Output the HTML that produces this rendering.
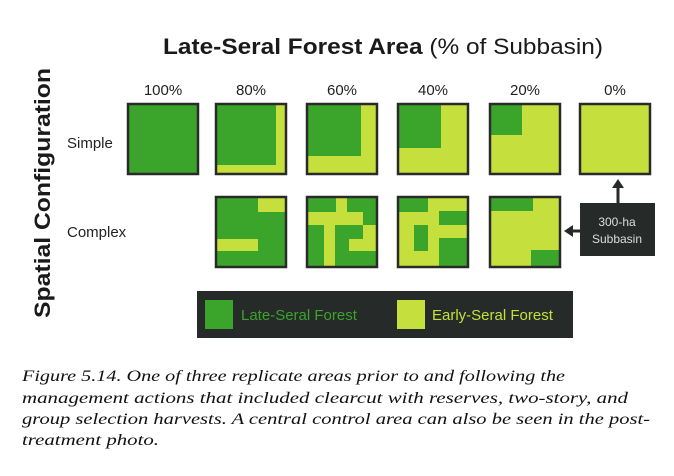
<!DOCTYPE html>
<html><head><meta charset="utf-8"><style>
html,body{margin:0;padding:0;background:#fff;}
svg{display:block;}
</style></head><body>
<svg width="674" height="476" viewBox="0 0 674 476" xmlns="http://www.w3.org/2000/svg">
<text x="383" y="54" text-anchor="middle" font-family="Liberation Sans, sans-serif" font-size="22" fill="#1a1a1a" textLength="440" lengthAdjust="spacingAndGlyphs"><tspan font-weight="bold">Late-Seral Forest Area</tspan> (% of Subbasin)</text>
<text transform="translate(50,193) rotate(-90)" text-anchor="middle" font-family="Liberation Sans, sans-serif" font-size="22" font-weight="bold" fill="#1a1a1a" textLength="250" lengthAdjust="spacingAndGlyphs">Spatial Configuration</text>
<text x="67" y="148" font-family="Liberation Sans, sans-serif" font-size="15" fill="#222">Simple</text>
<text x="67" y="237" font-family="Liberation Sans, sans-serif" font-size="15" fill="#222">Complex</text>
<g id="grid"></g>
<g>
<rect x="580" y="203" width="75" height="53" fill="#262a28"/>
<text x="617" y="226" text-anchor="middle" font-family="Liberation Sans, sans-serif" font-size="12" fill="#ddd">300-ha</text>
<text x="617" y="243" text-anchor="middle" font-family="Liberation Sans, sans-serif" font-size="12" fill="#ddd">Subbasin</text>
<line x1="618" y1="203" x2="618" y2="186" stroke="#262a28" stroke-width="3"/>
<polygon points="612,188 624,188 618,179" fill="#262a28"/>
<line x1="580" y1="231" x2="571" y2="231" stroke="#262a28" stroke-width="3"/>
<polygon points="573,225 573,237 564,231" fill="#262a28"/>
</g>
<g>
<rect x="197" y="291" width="376" height="47" fill="#262a28"/>
<rect x="205" y="300" width="28" height="29" fill="#3aa52a"/>
<text x="241" y="320" font-family="Liberation Sans, sans-serif" font-size="15" fill="#3aa52a">Late-Seral Forest</text>
<rect x="397" y="300" width="28" height="29" fill="#c5e03c"/>
<text x="432" y="320" font-family="Liberation Sans, sans-serif" font-size="15" fill="#c5e03c">Early-Seral Forest</text>
</g>
<g font-family="Liberation Serif, serif" font-style="italic" font-size="16" fill="#111">
<text x="22" y="381" textLength="543" lengthAdjust="spacingAndGlyphs">Figure 5.14. One of three replicate areas prior to and following the</text>
<text x="22" y="403" textLength="606" lengthAdjust="spacingAndGlyphs">management actions that included clearcut with reserves, two-story, and</text>
<text x="22" y="424" textLength="628" lengthAdjust="spacingAndGlyphs">group selection harvests. A central control area can also be seen in the post-</text>
<text x="22" y="445" textLength="137" lengthAdjust="spacingAndGlyphs">treatment photo.</text>
</g>
</svg>
<script>
// Column categories (late-seral %), row categories
const colLabels = ["100%","80%","60%","40%","20%","0%"];
const rowLabels = ["Simple","Complex"];
// Base fill per panel: "G" late-seral green, "Y" early-seral yellow, null = no panel
const simpleBase = ["G","G","G","Y","Y","Y"];
const complexBase = [null,"G","G","Y","Y",null];
// Patch rectangles in 70-unit panel coordinates [x0,y0,x1,y1], opposite colour of base
const simplePatches = [
  [],
  [[60,0,70,70],[0,61,70,70]],
  [[54,0,70,70],[0,52,70,70]],
  [[0,0,43,44]],
  [[0,0,32,31]],
  []
];
const complexPatches = [
  [],
  [[42,0,70,15],[0,42,42,54]],
  [[29,0,40,15],[0,15,56,28],[17,28,28,70],[56,28,70,42],[42,42,70,54]],
  [[0,0,30,15],[41,14,70,28],[16,28,30,54],[41,41,70,70]],
  [[0,0,43,14],[41,53,70,70]],
  []
];
const colX = [128,216,307,398,490,580];
const rowY = [104,197];
const S = 70, GREEN="#3aa52a", YELLOW="#c5e03c";
const NS="http://www.w3.org/2000/svg";
const g=document.getElementById('grid');
function mk(tag,attrs){const e=document.createElementNS(NS,tag);for(const k in attrs)e.setAttribute(k,attrs[k]);return e;}
colLabels.forEach((l,i)=>{
  const t=mk('text',{x:colX[i]+S/2,y:95,'text-anchor':'middle','font-family':'Liberation Sans, sans-serif','font-size':'15',fill:'#222'});
  t.textContent=l;
  
  
  g.appendChild(t);
});
[[simpleBase,simplePatches],[complexBase,complexPatches]].forEach(([base,patches],r)=>{
  base.forEach((b,c)=>{
    if(!b)return;
    const x=colX[c],y=rowY[r];
    const grp=mk('g',{});
    
    
    grp.appendChild(mk('rect',{x:x,y:y,width:S,height:S,fill:b==="G"?GREEN:YELLOW}));
    patches[c].forEach(p=>{
      const rc=mk('rect',{x:x+p[0],y:y+p[1],width:p[2]-p[0],height:p[3]-p[1],fill:b==="G"?YELLOW:GREEN});
      
      
      grp.appendChild(rc);
    });
    grp.appendChild(mk('rect',{x:x,y:y,width:S,height:S,fill:'none',stroke:'#2a2a2a','stroke-width':'2.5'}));
    g.appendChild(grp);
  });
});
</script>
</body></html>
